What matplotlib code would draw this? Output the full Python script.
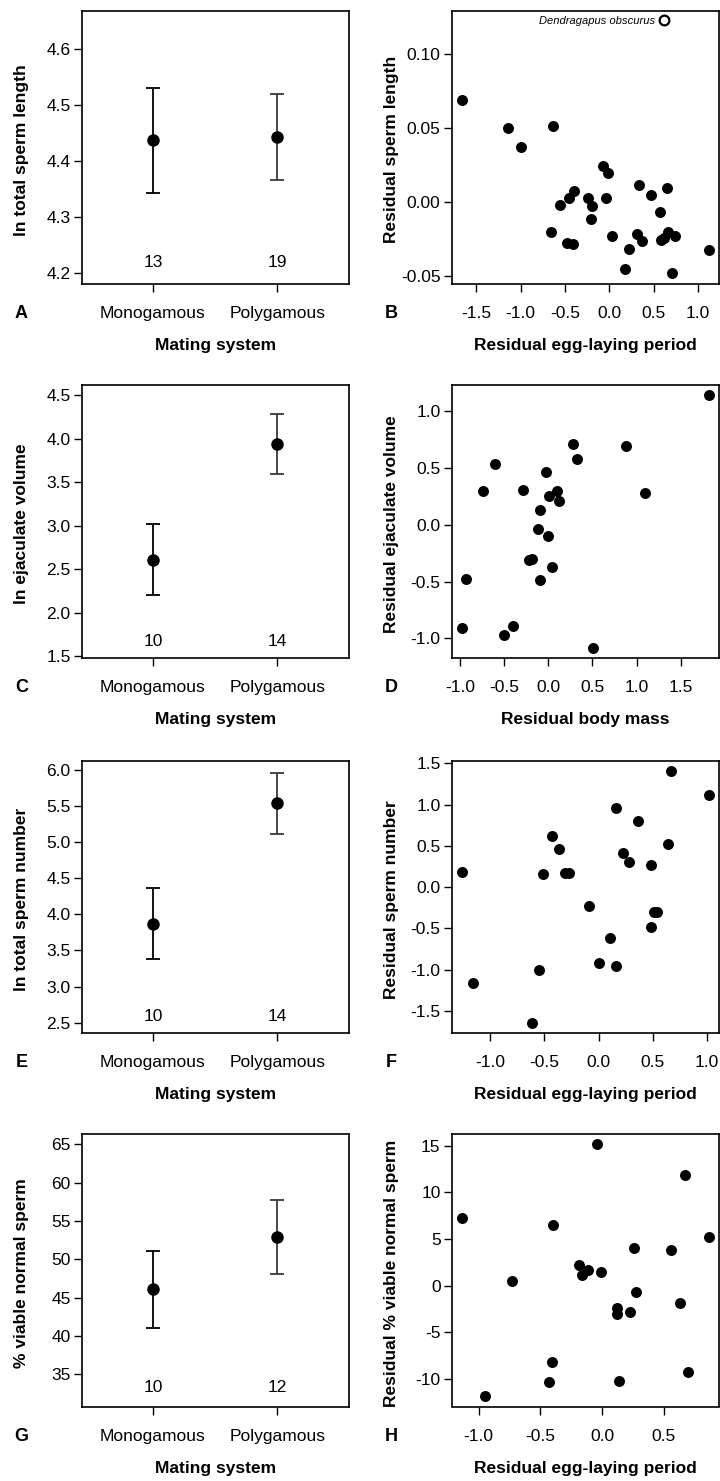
import matplotlib
matplotlib.use('Agg')
import matplotlib.pyplot as plt
from matplotlib.lines import Line2D
import numpy as np

plt.rcParams['font.family'] = ['Liberation Sans', 'DejaVu Sans']
plt.rcParams['axes.unicode_minus'] = False

# ---------------- data ----------------
categories = ['Monogamous', 'Polygamous']

# A: ln total sperm length
a_mean = [4.437, 4.443]
a_low = [4.343, 4.366]
a_high = [4.530, 4.520]
a_n = [13, 19]

# C: ln ejaculate volume
c_mean = [2.607, 3.941]
c_low = [2.201, 3.592]
c_high = [3.021, 4.285]
c_n = [10, 14]

# E: ln total sperm number
e_mean = [3.867, 5.534]
e_low = [3.378, 5.118]
e_high = [4.361, 5.954]
e_n = [10, 14]

# G: % viable normal sperm
g_mean = [46.07, 52.88]
g_low = [41.01, 48.08]
g_high = [51.13, 57.72]
g_n = [10, 12]

# B: residual egg-laying period vs residual sperm length
b_x = [-1.663, -1.137, -0.995, -0.635, -0.067, -0.011, 0.338, 0.646, 0.470, -0.394,
       -0.450, -0.244, -0.033, -0.559, -0.191, 0.571, -0.203, -0.653, -0.480, -0.405,
       0.034, 0.308, 0.364, 0.218, 0.578, 0.616, 0.664, 0.736, 0.176, 0.702, 1.122]
b_y = [0.0684, 0.0496, 0.0371, 0.0510, 0.0243, 0.0192, 0.0113, 0.0093, 0.0044, 0.0071,
       0.0028, 0.0024, 0.0024, -0.0023, -0.0030, -0.0070, -0.0115, -0.0202, -0.0278, -0.0283,
       -0.0229, -0.0213, -0.0262, -0.0319, -0.0258, -0.0245, -0.0202, -0.0229, -0.0448, -0.0478,
       -0.0326]

# D: residual body mass vs residual ejaculate volume
d_x = [1.816, 0.279, 0.876, 0.325, -0.604, -0.026, -0.740, -0.287, 0.102, 1.091,
       0.004, 0.117, -0.091, -0.117, -0.008, -0.215, -0.181, 0.045, -0.091, -0.937,
       -0.978, -0.498, -0.397, 0.502]
d_y = [1.138, 0.713, 0.695, 0.581, 0.537, 0.460, 0.296, 0.308, 0.296, 0.282,
       0.255, 0.211, 0.126, -0.038, -0.103, -0.311, -0.299, -0.372, -0.484, -0.481,
       -0.906, -0.974, -0.889, -1.082]

# F: residual egg-laying period vs residual sperm number
f_x = [0.670, 1.014, 0.163, 0.363, -0.427, 0.636, -0.369, 0.227, 0.276, 0.479,
       -1.260, -0.516, -0.310, -0.270, -0.089, 0.513, 0.538, 0.482, 0.104, 0.000,
       0.163, -0.550, -1.155, -0.611]
f_y = [1.407, 1.121, 0.960, 0.803, 0.614, 0.521, 0.465, 0.409, 0.300, 0.272,
       0.179, 0.155, 0.171, 0.171, -0.228, -0.300, -0.300, -0.477, -0.618, -0.916,
       -0.949, -1.005, -1.162, -1.641]

# H: residual egg-laying period vs residual % viable normal sperm
h_x = [-0.041, 0.676, -1.135, -0.395, 0.865, 0.257, 0.562, -0.186, -0.116, -0.162,
       -0.005, -0.730, 0.273, 0.635, 0.119, 0.124, 0.230, -0.403, -0.430, 0.141,
       0.700, -0.946]
h_y = [15.14, 11.89, 7.29, 6.54, 5.18, 4.00, 3.82, 2.25, 1.64, 1.11,
       1.50, 0.50, -0.68, -1.86, -2.43, -3.04, -2.86, -8.18, -10.32, -10.21,
       -9.25, -11.86]

# ---------------- layout ----------------
W, H = 720, 1481
fig = plt.figure(figsize=(W / 100, H / 100), dpi=100)

lefts = [81.7, 451.7]
widths = [266.8, 267.3]
tops = [10.5, 385.0, 760.5, 1134.3]
bottoms = [283.5, 657.7, 1032.7, 1406.5]


def make_ax(col, row):
    l = lefts[col] / W
    w = widths[col] / W
    b = 1 - bottoms[row] / H
    h = (bottoms[row] - tops[row]) / H
    ax = fig.add_axes([l, b, w, h])
    for s in ax.spines.values():
        s.set_linewidth(1.2)
    ax.tick_params(axis='both', direction='out', length=6, width=1.0, labelsize=12.5)
    ax.tick_params(axis='y', pad=2)
    ax.tick_params(axis='x', pad=10)
    return ax


def finish(ax, xlabel, ylabel, letter):
    ax.set_ylabel(ylabel, fontsize=12.5, fontweight='bold')
    ax.yaxis.label.set_va('center')
    ax.yaxis.set_label_coords(-0.224, 0.49)
    ax.set_xlabel(xlabel, fontsize=12.5, fontweight='bold')
    ax.xaxis.label.set_va('center')
    ax.xaxis.set_label_coords(0.5, -62 / 273)
    ax.text(-0.226, -30 / 273, letter, transform=ax.transAxes, fontsize=13,
            fontweight='bold', ha='center', va='center')


def means_panel(row, mean, low, high, n, ylim, yticks, fmt, ylabel, letter, n_y):
    ax = make_ax(0, row)
    xs = np.arange(len(categories))
    cols = ['black', '#3a3a3a']
    for i in xs:
        ax.errorbar([i], [mean[i]], yerr=[[mean[i] - low[i]], [high[i] - mean[i]]],
                    fmt='o', color='black', ecolor=cols[i], ms=8, capsize=5,
                    elinewidth=1.3, capthick=1.3)
        ax.text(i, n_y, str(n[i]), ha='center', va='center', fontsize=12.5)
    ax.set_xlim(-0.573, 1.573)
    ax.set_ylim(*ylim)
    ax.set_xticks(xs)
    ax.set_xticklabels(categories)
    ax.set_yticks(yticks)
    ax.set_yticklabels([fmt.format(v) for v in yticks])
    finish(ax, 'Mating system', ylabel, letter)
    return ax


def scatter_panel(row, x, y, xlim, ylim, xticks, yticks, xfmt, yfmt, xlabel, ylabel, letter):
    ax = make_ax(1, row)
    ax.plot(x, y, 'o', color='black', ms=7.9, mew=0)
    ax.set_xlim(*xlim)
    ax.set_ylim(*ylim)
    ax.set_xticks(xticks)
    ax.set_xticklabels([xfmt.format(v) for v in xticks])
    ax.set_yticks(yticks)
    ax.set_yticklabels([yfmt.format(v) for v in yticks])
    finish(ax, xlabel, ylabel, letter)
    return ax


means_panel(0, a_mean, a_low, a_high, a_n, (4.182, 4.668),
            [4.2, 4.3, 4.4, 4.5, 4.6], '{:.1f}', 'ln total sperm length', 'A', 4.2196)
means_panel(1, c_mean, c_low, c_high, c_n, (1.481, 4.615),
            [1.5, 2.0, 2.5, 3.0, 3.5, 4.0, 4.5], '{:.1f}', 'ln ejaculate volume', 'C', 1.665)
means_panel(2, e_mean, e_low, e_high, e_n, (2.362, 6.129),
            [2.5, 3.0, 3.5, 4.0, 4.5, 5.0, 5.5, 6.0], '{:.1f}', 'ln total sperm number', 'E', 2.592)
means_panel(3, g_mean, g_low, g_high, g_n, (30.77, 66.31),
            [35, 40, 45, 50, 55, 60, 65], '{:d}', '% viable normal sperm', 'G', 33.25)

axB = scatter_panel(0, b_x, b_y, (-1.775, 1.235), (-0.0549, 0.129),
                    [-1.5, -1.0, -0.5, 0.0, 0.5, 1.0], [-0.05, 0.0, 0.05, 0.10],
                    '{:.1f}', '{:.2f}', 'Residual egg-laying period', 'Residual sperm length', 'B')
outlier = Line2D([], [], marker='o', ls='', mfc='white', mec='black', ms=7, mew=1.6,
                 label='Dendragapus obscurus')
leg = axB.legend(handles=[outlier], loc='center right', bbox_to_anchor=(0.815, 0.961),
                 frameon=False, markerfirst=False, handlelength=1.0, handletextpad=0.3,
                 borderpad=0, borderaxespad=0, numpoints=1,
                 prop={'size': 8, 'style': 'italic', 'family': ['Liberation Sans', 'DejaVu Sans']})

scatter_panel(1, d_x, d_y, (-1.095, 1.934), (-1.170, 1.229),
              [-1.0, -0.5, 0.0, 0.5, 1.0, 1.5], [-1.0, -0.5, 0.0, 0.5, 1.0],
              '{:.1f}', '{:.1f}', 'Residual body mass', 'Residual ejaculate volume', 'D')
scatter_panel(2, f_x, f_y, (-1.355, 1.109), (-1.762, 1.533),
              [-1.0, -0.5, 0.0, 0.5, 1.0], [-1.5, -1.0, -0.5, 0.0, 0.5, 1.0, 1.5],
              '{:.1f}', '{:.1f}', 'Residual egg-laying period', 'Residual sperm number', 'F')
scatter_panel(3, h_x, h_y, (-1.219, 0.949), (-12.96, 16.21),
              [-1.0, -0.5, 0.0, 0.5], [-10, -5, 0, 5, 10, 15],
              '{:.1f}', '{:d}', 'Residual egg-laying period', 'Residual % viable normal sperm', 'H')

fig.savefig('out.png', dpi=100)
